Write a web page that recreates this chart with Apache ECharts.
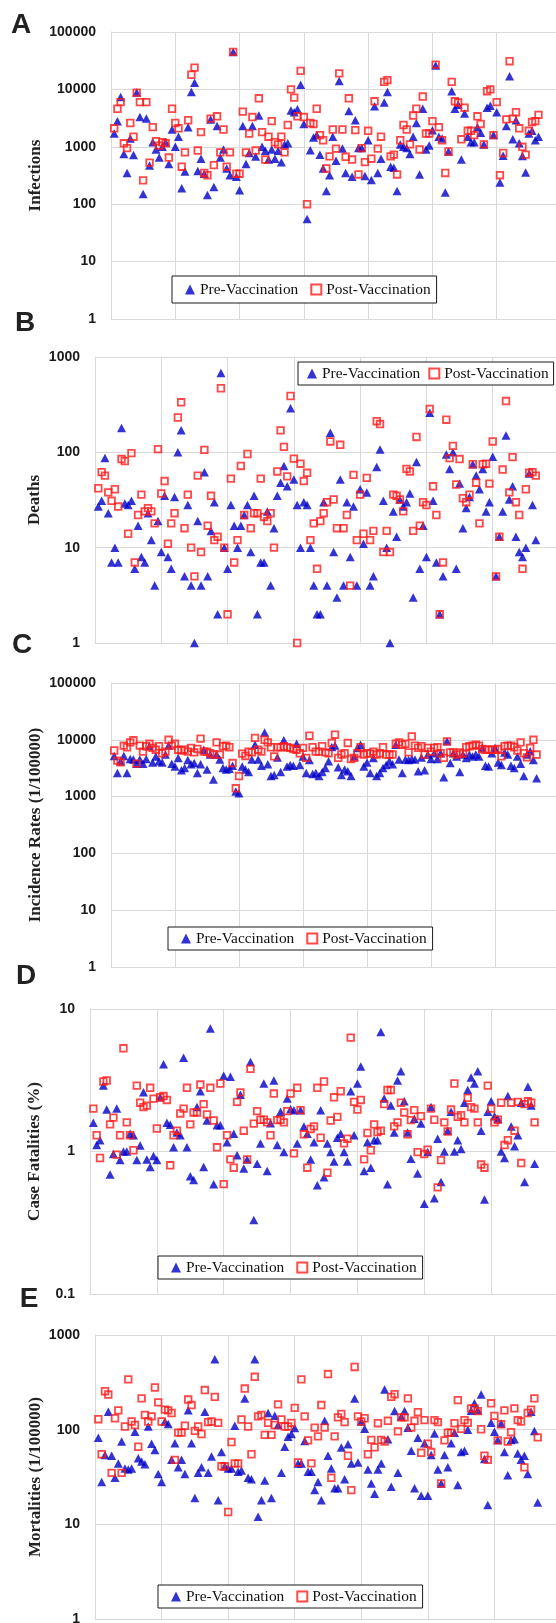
<!DOCTYPE html>
<html>
<head>
<meta charset="utf-8">
<title>Pre- and post-vaccination panels</title>
<script src="https://cdn.jsdelivr.net/npm/echarts@6/dist/echarts.min.js"></script>
<style>
  html, body { margin: 0; padding: 0; background: #fff; }
  #chart { width: 556px; height: 1623px; }
</style>
</head>
<body>
<div id="chart"></div>
<script>
const panelLetters = ['A', 'B', 'C', 'D', 'E'];
const yTitles = ['Infections', 'Deaths', 'Incidence Rates (1/100000)', 'Case Fatalities (%)', 'Mortalities (1/100000)'];
const yMins = [1, 1, 1, 0.1, 1];
const yMaxs = [100000, 1000, 100000, 10, 1000];
const seriesNames = ['Pre-Vaccination', 'Post-Vaccination'];
const xMax = 140;
const xStep = 20;

// values per country, in x order (1..133)
const preInfections = [
  1700, 2800, 7400, 750, 350, 1400, 720, 8800, 3300, 150,
  3100, 470, 1200, 900, 650, 1000, 1200, 500, 2000, 1000,
  1500, 190, 370, 2200, 9000, 13000, 380, 620, 340, 145,
  3000, 200, 2300, 650, 900, 420, 320, 45000, 300, 175,
  2300, 500, 780, 2300, 680, 3500, 1000, 850, 600, 900,
  620, 850, 540, 1100, 1150, 4300, 4000, 4500, 12000, 2500,
  55, 870, 1450, 1600, 730, 420, 170, 320, 1500, 570,
  14000, 930, 350, 4200, 300, 2900, 950, 950, 310, 1300,
  265, 5100, 350, 620, 5900, 9000, 450, 430, 170, 1100,
  1000, 950, 750, 1500, 2600, 330, 4600, 900, 1050, 1950,
  26000, 1500, 1400, 160, 830, 9300, 4600, 5400, 600, 3800,
  1500, 1200, 1200, 2200, 1750, 1100, 4800, 5200, 1600, 4000,
  240, 700, 2300, 17000, 1350, 2900, 1150, 690, 355, 1700,
  1900, 1300, 1500
];
const postInfections = [
  2100, 4600, 6000, 1150, 950, 2600, 1500, 8800, 6000, 260,
  6000, 530, 2200, 1250, 1050, 1200, 1150, 650, 4600, 2600,
  2100, 450, 800, 2900, 18000, 24000, 860, 1800, 350, 320,
  3100, 480, 3400, 800, 2000, 450, 800, 45000, 340, 340,
  4100, 800, 1700, 3300, 860, 7000, 1800, 600, 1500, 2800,
  1200, 1100, 1500, 800, 2400, 10000, 7200, 3400, 21000, 3300,
  100, 2600, 2500, 4600, 1600, 1300, 420, 680, 2000, 930,
  19000, 2000, 670, 7000, 600, 1950, 330, 950, 540, 1900,
  620, 6200, 930, 1500, 13500, 14500, 680, 730, 330, 1300,
  2400, 2000, 1100, 3500, 4600, 900, 7500, 1700, 1700, 2800,
  27000, 2200, 1300, 350, 830, 13500, 6200, 5900, 1350, 4800,
  1900, 1900, 1600, 3400, 2500, 1100, 9300, 10000, 1600, 6000,
  320, 780, 3000, 31000, 3100, 4000, 2100, 1000, 730, 1900,
  2700, 2800, 3600
];
const preDeaths = [
  27, 31, 87, 23, 7, 10, 7, 180, 29, 28,
  31, 6, 17, 8, 7, 23, 12, 4, 19, 9,
  35, 8, 6, 34, 100, 170, 5, 28, 4, 1,
  19, 4, 62, 5, 15, 30, 2, 680, 10, 6,
  28, 17, 10, 17, 22, 28, 9, 35, 2, 7,
  7, 24, 4, 16, 35, 48, 72, 44, 290, 52,
  28, 10, 30, 28, 10, 4, 2, 2, 30, 4,
  160, 9, 3, 52, 4, 30, 8, 27, 4, 41,
  11, 38, 4, 5, 70, 107, 31, 10, 1, 24,
  13, 32, 27, 30, 37, 3, 79, 6, 17, 8,
  260, 31, 7, 2, 5, 95, 67, 100, 6, 47,
  16, 26, 34, 75, 57, 41, 67, 24, 30, 90,
  5, 13, 24, 150, 32, 44, 13, 9, 8, 10,
  60, 28, 12
];
const postDeaths = [
  42, 62, 57, 38, 31, 41, 27, 85, 81, 14,
  98, 7, 22, 36, 24, 26, 24, 18, 108, 37,
  50, 11, 18, 23, 232, 335, 16, 36, 10, 5,
  57, 9, 106, 17, 35, 12, 13, 470, 10, 2,
  53, 7, 12, 72, 22, 96, 16, 23, 23, 53,
  21, 19, 23, 10, 63, 170, 114, 56, 390, 86,
  1, 76, 50, 61, 12, 18, 6, 19, 23, 30,
  130, 32, 16, 120, 16, 22, 4, 58, 12, 36,
  14, 54, 12, 15, 212, 198, 9, 15, 9, 36,
  35, 32, 24, 67, 63, 15, 145, 17, 30, 28,
  285, 44, 22, 2, 7, 220, 87, 117, 46, 85,
  33, 30, 36, 75, 48, 18, 75, 76, 47, 130,
  5, 13, 66, 345, 38, 89, 30, 22, 6, 41,
  61, 62, 57
];
const preIncidence = [
  5200, 2600, 4200, 5200, 2600, 4600, 4500, 3800, 4500, 3800,
  4600, 7700, 4000, 5100, 4200, 4000, 5500, 7900, 3800, 3400,
  4800, 2900, 3200, 4400, 3700, 3900, 2600, 3700, 6700, 3000,
  5500, 2000, 5500, 4500, 3200, 3000, 3100, 3500, 1230, 1150,
  3400, 3000, 2700, 4500, 8200, 4500, 3500, 13500, 3700, 2300,
  2400, 4900, 2700, 9800, 3400, 3600, 3500, 8500, 3600, 5100,
  2600, 4400, 2500, 2600, 2300, 2700, 3200, 4200, 7500, 7900,
  3300, 2400, 3000, 2800, 2300, 5100, 7200, 8200, 3400, 4000,
  2600, 4800, 2300, 2600, 3200, 3600, 4200, 3700, 8200, 4500,
  2600, 4500, 4400, 4600, 4500, 2800, 4900, 2900, 5500, 4600,
  5800, 4600, 5800, 2200, 9400, 3900, 5800, 5100, 2700, 5500,
  4800, 5500, 5100, 5500, 5100, 7200, 3500, 3400, 5800, 7200,
  4000, 3600, 6000, 5500, 3500, 3200, 5100, 3800, 2300, 5500,
  6300, 4400, 2100
];
const postIncidence = [
  6500, 4300, 4000, 7900, 7400, 9000, 9800, 3800, 7900, 6200,
  7700, 8500, 7200, 6700, 7700, 5800, 6200, 10000, 7900, 8500,
  6700, 6500, 6700, 6200, 7200, 6000, 6900, 10500, 6200, 6200,
  5800, 5500, 9000, 5500, 7700, 7900, 7400, 3900, 1400, 2300,
  5700, 5200, 6200, 6000, 10800, 6700, 6200, 10000, 9000, 7400,
  5100, 7400, 7400, 7700, 7400, 7200, 6900, 6700, 5800, 7200,
  4800, 11800, 7400, 6200, 6200, 7700, 6000, 5800, 8800, 12300,
  4800, 5500, 5800, 8800, 4600, 4800, 5800, 7400, 5500, 5800,
  5700, 6200, 5500, 5800, 7400, 5500, 5500, 5500, 8500, 9000,
  8200, 8500, 6000, 11500, 7900, 7200, 7700, 5500, 7200, 6200,
  7200, 7400, 5800, 4800, 9400, 6000, 6000, 5500, 6000, 5700,
  7400, 7700, 7900, 8200, 7900, 6900, 6700, 6700, 6700, 6700,
  6900, 5100, 7700, 7900, 7900, 7400, 6500, 9000, 5800, 4900,
  7200, 10000, 5500
];
const preFatality = [
  1.59, 1.11, 1.2, 2.9, 1.97, 0.69, 0.96, 2.0, 0.87, 1.0,
  1.0, 1.33, 1.3, 0.87, 1.1, 2.6, 0.88, 0.78, 0.93, 0.87,
  2.4, 4.1, 1.59, 1.54, 1.07, 1.36, 1.3, 4.55, 1.07, 0.67,
  0.63, 2.05, 2.65, 0.78, 1.65, 7.3, 0.59, 1.53, 1.53, 3.4,
  1.16, 3.35, 1.33, 0.94, 2.5, 0.76, 0.88, 4.25, 0.33, 0.82,
  1.14, 3.0, 0.73, 1.58, 3.15, 1.11, 1.9, 0.99, 2.35, 1.98,
  1.95, 1.14, 1.95, 1.5, 1.33, 0.88, 1.16, 0.58, 1.95, 0.66,
  1.14, 0.99, 0.85, 1.25, 1.33, 0.99, 0.85, 2.65, 1.3, 3.0,
  3.95, 0.73, 1.16, 0.77, 1.2, 1.2, 6.9, 2.35, 0.59, 2.1,
  1.36, 3.15, 3.65, 2.25, 1.36, 0.89, 1.7, 0.7, 1.57, 0.43,
  0.99, 2.05, 0.47, 1.23, 0.61, 1.0, 1.4, 1.9, 1.0, 1.2,
  1.04, 2.2, 2.7, 3.3, 3.0, 3.65, 1.4, 0.46, 1.9, 2.25,
  1.77, 1.7, 1.0, 0.9, 2.45, 1.5, 1.09, 1.3, 2.2, 0.61,
  2.85, 2.1, 0.82
];
const postFatality = [
  2.0, 1.3, 0.9, 3.1, 3.15, 1.55, 1.73, 0.95, 1.3, 5.3,
  1.6, 1.3, 1.02, 2.9, 2.2, 2.05, 2.1, 2.8, 2.35, 1.45,
  2.4, 2.45, 2.3, 0.8, 1.3, 1.4, 1.85, 2.0, 2.8, 1.55,
  1.88, 1.88, 2.95, 2.15, 1.82, 2.8, 1.65, 1.07, 3.0, 0.59,
  1.3, 0.88, 0.77, 2.23, 2.6, 1.4, 0.88, 3.8, 1.57, 1.92,
  1.67, 1.67, 1.6, 1.3, 2.55, 1.66, 1.67, 1.6, 1.92, 2.55,
  0.97, 2.8, 1.95, 1.32, 0.77, 1.44, 1.5, 2.8, 1.25, 3.1,
  0.71, 1.65, 2.4, 1.75, 2.65, 1.14, 1.23, 6.3, 2.23, 1.97,
  2.3, 0.88, 1.35, 1.02, 1.55, 1.37, 1.4, 2.15, 2.7, 2.7,
  1.5, 1.6, 2.2, 1.88, 1.32, 1.66, 1.95, 0.99, 1.77, 0.96,
  1.03, 2.0, 1.67, 0.56, 0.87, 1.6, 1.38, 1.97, 3.0, 1.75,
  1.8, 1.6, 2.38, 2.05, 2.0, 1.6, 0.81, 0.77, 2.9, 2.0,
  1.6, 1.67, 2.2, 1.11, 1.2, 2.2, 1.4, 2.23, 0.83, 2.15,
  2.25, 2.2, 1.6
];
const preMortality = [
  82, 28, 54, 155, 53, 31, 44, 75, 39, 38,
  39, 95, 50, 46, 43, 108, 71, 61, 34, 28,
  122, 115, 48, 72, 40, 48, 34, 160, 72, 19,
  35, 40, 155, 35, 52, 555, 18, 58, 41, 39,
  39, 110, 36, 37, 214, 31, 30, 555, 12, 18,
  29, 150, 19, 140, 112, 35, 66, 84, 90, 104,
  44, 44, 76, 36, 36, 23, 28, 18, 124, 53,
  39, 24, 24, 65, 30, 70, 44, 214, 45, 122,
  102, 38, 27, 21, 38, 44, 265, 79, 25, 157,
  35, 137, 157, 105, 60, 24, 82, 20, 72, 20,
  54, 91, 38, 27, 54, 40, 72, 93, 26, 58,
  60, 100, 158, 190, 160, 235, 49, 16, 118, 95,
  78, 116, 58, 33, 78, 79, 56, 48, 53, 34,
  155, 97, 17
];
const postMortality = [
  129, 55, 255, 235, 35, 132, 160, 35, 108, 340,
  122, 112, 66, 214, 143, 122, 138, 279, 194, 122,
  163, 160, 150, 48, 93, 93, 110, 208, 182, 97,
  108, 90, 262, 120, 122, 222, 118, 41, 41, 13.5,
  74, 44, 44, 128, 272, 108, 55, 362, 138, 143,
  88, 118, 88, 112, 185, 128, 108, 108, 118, 170,
  45, 340, 138, 77, 44, 105, 85, 182, 105, 387,
  31, 85, 135, 147, 120, 53, 23, 460, 138, 122,
  132, 55, 78, 65, 117, 78, 75, 124, 222, 237,
  96, 135, 135, 214, 105, 124, 153, 57, 126, 71,
  58, 126, 120, 27, 77, 93, 93, 117, 205, 102,
  126, 118, 168, 168, 157, 101, 53, 48, 190, 140,
  77, 114, 160, 75, 94, 168, 126, 122, 40, 150,
  163, 214, 83
];

const panelData = [
  [preInfections, postInfections],
  [preDeaths, postDeaths],
  [preIncidence, postIncidence],
  [preFatality, postFatality],
  [preMortality, postMortality]
];

const layout = [
  { left: 111, top: 32, width: 450, height: 287, nameGap: 67, legend: [172, 276], pad: [6, 6, 6, 13], gap: 12, letter: [21, 25] },
  { left: 95, top: 357, width: 464, height: 286, nameGap: 52, legend: [298, 362], pad: [4, 5, 4, 9], gap: 8, letter: [25, 323] },
  { left: 111, top: 683, width: 448, height: 284, nameGap: 67, legend: [168, 927], pad: [4, 6, 4, 13], gap: 12, letter: [22, 645] },
  { left: 90, top: 1009, width: 468, height: 285, nameGap: 47, legend: [158, 1256], pad: [4, 6, 4, 13], gap: 12, letter: [26, 976] },
  { left: 95, top: 1335, width: 466, height: 284, nameGap: 51, legend: [158, 1585], pad: [4, 6, 4, 13], gap: 12, letter: [29, 1299] }
];

const gridColor = '#d9d9d9';
const preColor = '#0000c8';
const postColor = '#ff1a1a';

const chart = echarts.init(document.getElementById('chart'), null, { renderer: 'canvas' });

const grid = layout.map(b => ({
  left: b.left, top: b.top, width: b.width, height: b.height,
  containLabel: false, outerBoundsMode: 'none'
}));

const xAxis = layout.map((b, i) => ({
  type: 'value', gridIndex: i, min: 0, max: xMax, interval: xStep,
  axisLabel: { show: false }, axisTick: { show: false },
  axisLine: { show: true, lineStyle: { color: gridColor, width: 1 } },
  splitLine: { show: true, lineStyle: { color: gridColor, width: 1 } }
}));

const yAxis = layout.map((b, i) => ({
  type: 'log', logBase: 10, gridIndex: i, min: yMins[i], max: yMaxs[i],
  name: yTitles[i], nameLocation: 'middle', nameRotate: 90, nameGap: b.nameGap,
  nameMoveOverlap: false,
  nameTextStyle: { fontFamily: 'Liberation Serif', fontWeight: 'bold', fontSize: 17, color: '#222' },
  axisLabel: {
    margin: 15, fontFamily: 'Liberation Sans', fontWeight: 'bold', fontSize: 14, color: '#1a1a1a',
    formatter: v => String(v)
  },
  axisTick: { show: false },
  axisLine: { show: true, lineStyle: { color: gridColor, width: 1 } },
  splitLine: { show: true, lineStyle: { color: gridColor, width: 1 } },
  minorSplitLine: { show: false }
}));

const series = [];
panelData.forEach((pair, i) => {
  series.push({
    type: 'scatter', name: seriesNames[0], xAxisIndex: i, yAxisIndex: i,
    symbol: 'triangle', symbolSize: [9, 8.5],
    itemStyle: { color: preColor },
    data: pair[0].map((v, k) => [k + 1, v])
  });
  series.push({
    type: 'scatter', name: seriesNames[1], xAxisIndex: i, yAxisIndex: i,
    symbol: 'rect', symbolSize: 6.6,
    itemStyle: { color: 'rgba(0,0,0,0)', borderColor: postColor, borderWidth: 1.8 },
    data: pair[1].map((v, k) => [k + 1, v])
  });
});

// width is only there to stop wrapping near the right edge; the box hugs its items
const legend = layout.map(b => ({
  left: b.legend[0], top: b.legend[1], width: 320, orient: 'horizontal',
  itemWidth: 10, itemHeight: 10, itemGap: b.gap, padding: b.pad,
  borderColor: '#1a1a1a', borderWidth: 1, backgroundColor: '#fff',
  selectedMode: false,
  textStyle: { fontFamily: 'Liberation Serif', fontSize: 15.4, color: '#111' },
  data: seriesNames
}));

const letters = layout.map((b, i) => ({
  type: 'text', x: b.letter[0], y: b.letter[1],
  style: { text: panelLetters[i], font: 'bold 28px "Liberation Sans"', fill: '#222', align: 'center', verticalAlign: 'middle' }
}));

chart.setOption({
  animation: false,
  backgroundColor: '#fff',
  grid, xAxis, yAxis, series, legend,
  graphic: letters
});
</script>
</body>
</html>
